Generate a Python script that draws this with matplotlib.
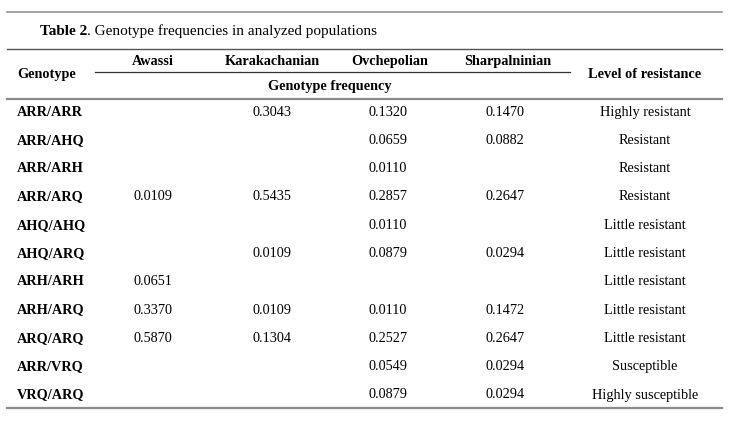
import matplotlib.pyplot as plt

genotypes = ['ARR/ARR', 'ARR/AHQ', 'ARR/ARH', 'ARR/ARQ', 'AHQ/AHQ', 'AHQ/ARQ',
             'ARH/ARH', 'ARH/ARQ', 'ARQ/ARQ', 'ARR/VRQ', 'VRQ/ARQ']
breeds = ['Awassi', 'Karakachanian', 'Ovchepolian', 'Sharpalninian']
awassi = ['', '', '', '0.0109', '', '', '0.0651', '0.3370', '0.5870', '', '']
karakachanian = ['0.3043', '', '', '0.5435', '', '0.0109', '', '0.0109', '0.1304', '', '']
ovchepolian = ['0.1320', '0.0659', '0.0110', '0.2857', '0.0110', '0.0879', '',
               '0.0110', '0.2527', '0.0549', '0.0879']
sharpalninian = ['0.1470', '0.0882', '', '0.2647', '', '0.0294', '', '0.1472',
                 '0.2647', '0.0294', '0.0294']
resistance = ['Highly resistant', 'Resistant', 'Resistant', 'Resistant',
              'Little resistant', 'Little resistant', 'Little resistant',
              'Little resistant', 'Little resistant', 'Susceptible',
              'Highly susceptible']

W, H = 732, 428
fig = plt.figure(figsize=(W / 100, H / 100), dpi=100)
ax = fig.add_axes([0, 0, 1, 1])
ax.set_xlim(0, W)
ax.set_ylim(H, 0)
ax.axis('off')

plt.rcParams['font.family'] = ['Liberation Serif', 'DejaVu Serif']
fs = 10.3
line_c = '#8a8a8a'

# horizontal rules
ax.plot([7, 722], [12, 12], color=line_c, lw=1.1)
ax.plot([7, 722], [49, 49], color='#555555', lw=1.0)
ax.plot([95, 570], [72, 72], color='#333333', lw=0.9)
ax.plot([7, 722], [98.5, 98.5], color=line_c, lw=1.6)
ax.plot([7, 722], [408, 408], color=line_c, lw=1.6)

# title
t = ax.text(40, 31, 'Table 2', fontsize=11, fontweight='bold', va='center', ha='left')
fig.canvas.draw()
bb = t.get_window_extent().transformed(ax.transData.inverted())
ax.text(bb.x1, 31, '. Genotype frequencies in analyzed populations', fontsize=11,
        va='center', ha='left')

# header
col_x = [153, 272, 390, 508]
for x, b in zip(col_x, breeds):
    ax.text(x, 61.5, b, fontsize=fs, fontweight='bold', ha='center', va='center')
ax.text(17, 74, 'Genotype', fontsize=fs, fontweight='bold', ha='left', va='center')
ax.text(645, 74, 'Level of resistance', fontsize=fs, fontweight='bold', ha='center', va='center')
ax.text(330, 86, 'Genotype frequency', fontsize=fs, fontweight='bold', ha='center', va='center')

# body
row_y0, row_dy = 112, 28.3
val_x = [153, 272, 388, 505]
for i, g in enumerate(genotypes):
    y = row_y0 + i * row_dy
    ax.text(17, y, g, fontsize=fs, fontweight='bold', ha='left', va='center')
    for x, col in zip(val_x, [awassi, karakachanian, ovchepolian, sharpalninian]):
        ax.text(x, y, col[i], fontsize=fs, ha='center', va='center')
    ax.text(645, y, resistance[i], fontsize=fs, ha='center', va='center')

fig.savefig('out.png', dpi=100)
